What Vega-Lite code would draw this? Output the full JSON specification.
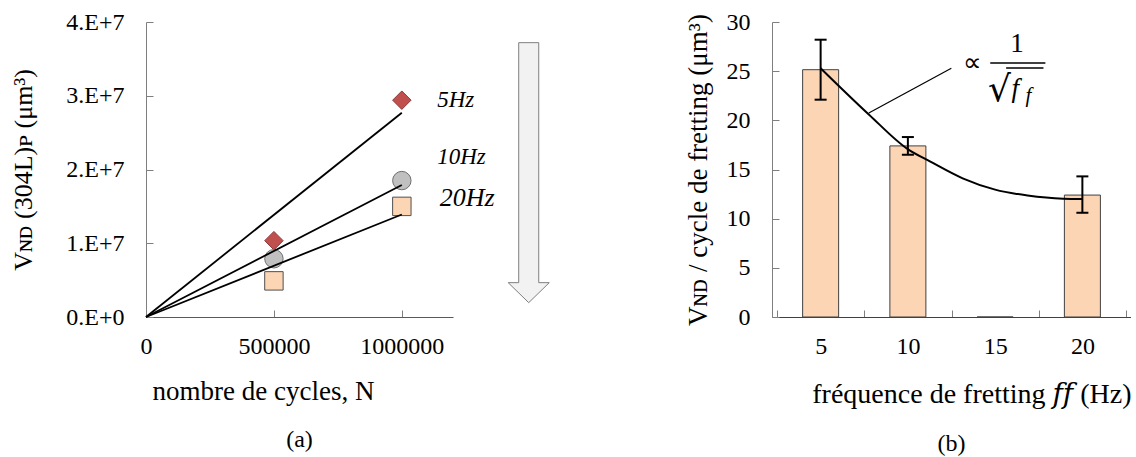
{
  "$schema": "https://vega.github.io/schema/vega-lite/v6.json",
  "background": "white",
  "padding": {"left": 10, "top": 10, "right": 0, "bottom": 0},
  "bounds": "flush",
  "spacing": 319,
  "config": {
    "font": "Liberation Serif",
    "view": {"stroke": null},
    "axis": {
      "grid": false,
      "labelFont": "Liberation Serif",
      "titleFont": "Liberation Serif, DejaVu Serif",
      "labelFontSize": 24,
      "titleFontSize": 27,
      "titleFontWeight": "normal",
      "labelColor": "black",
      "titleColor": "black",
      "tickSize": -7,
      "tickColor": "#7f7f7f",
      "domainColor": "#7f7f7f",
      "labelOverlap": false,
      "labelFlush": false
    },
    "title": {"font": "Liberation Serif", "fontSize": 24, "fontWeight": "normal", "color": "black"}
  },
  "hconcat": [
    {
      "width": 307,
      "height": 295,
      "title": {"text": "(a)", "orient": "bottom", "frame": "group", "anchor": "middle", "offset": 24},
      "layer": [
        {
          "data": {"values": [
            {"g": "5Hz", "N": 500000, "V": 10350000},
            {"g": "5Hz", "N": 1000000, "V": 29400000},
            {"g": "10Hz", "N": 500000, "V": 7900000},
            {"g": "10Hz", "N": 1000000, "V": 18500000},
            {"g": "20Hz", "N": 500000, "V": 4900000},
            {"g": "20Hz", "N": 1000000, "V": 15000000}
          ]},
          "mark": {"type": "point", "filled": true, "size": 340, "opacity": 1, "strokeWidth": 1},
          "encoding": {
            "x": {"field": "N", "type": "quantitative", "scale": {"domain": [0, 1200000], "nice": false},
              "axis": {"values": [0, 500000, 1000000], "format": "d", "title": "nombre de cycles, N",
                "titleX": 117, "titleY": 74, "titleBaseline": "middle", "titleAlign": "center",
                "domainColor": "#595959", "labelPadding": 24}},
            "y": {"field": "V", "type": "quantitative", "scale": {"domain": [0, 40000000], "nice": false},
              "axis": {"values": [0, 10000000, 20000000, 30000000, 40000000],
                "labelExpr": "datum.value == 0 ? '0.E+0' : format(datum.value/10000000, 'd') + '.E+7'",
                "title": "Vɴᴅ  (304L)ᴘ (μm³)", "titleFontSize": 26, "titleX": -123, "titleY": 147.5, "titleBaseline": "middle", "titleAlign": "center",
                "labelPadding": 29}},
            "shape": {"field": "g", "type": "nominal", "scale": {"domain": ["5Hz", "10Hz", "20Hz"], "range": ["diamond", "circle", "square"]}, "legend": null},
            "fill": {"field": "g", "type": "nominal", "scale": {"domain": ["5Hz", "10Hz", "20Hz"], "range": ["#C0504D", "#C0C0C0", "#FCD5B5"]}, "legend": null},
            "stroke": {"field": "g", "type": "nominal", "scale": {"domain": ["5Hz", "10Hz", "20Hz"], "range": ["#8C3836", "#6f6f6f", "#505050"]}, "legend": null}
          }
        },
        {
          "data": {"values": [
            {"g": "5Hz", "N": 0, "V": 0},
            {"g": "5Hz", "N": 1000000, "V": 27700000},
            {"g": "10Hz", "N": 0, "V": 0},
            {"g": "10Hz", "N": 1000000, "V": 17900000},
            {"g": "20Hz", "N": 0, "V": 0},
            {"g": "20Hz", "N": 1000000, "V": 13900000}
          ]},
          "mark": {"type": "line", "color": "black", "strokeWidth": 1.8},
          "encoding": {
            "x": {"field": "N", "type": "quantitative"},
            "y": {"field": "V", "type": "quantitative"},
            "detail": {"field": "g", "type": "nominal"}
          }
        },
        {
          "data": {"values": [
            {"label": "5Hz", "N": 1138000, "V": 29460000},
            {"label": "10Hz", "N": 1138000, "V": 21640000}
          ]},
          "mark": {"type": "text", "align": "left", "baseline": "middle", "fontStyle": "italic", "font": "Liberation Serif", "fontSize": 23, "color": "black"},
          "encoding": {
            "x": {"field": "N", "type": "quantitative"},
            "y": {"field": "V", "type": "quantitative"},
            "text": {"field": "label", "type": "nominal"}
          }
        },
        {
          "data": {"values": [
            {"label": "20Hz", "N": 1148000, "V": 16140000}
          ]},
          "mark": {"type": "text", "align": "left", "baseline": "middle", "fontStyle": "italic", "font": "Liberation Serif", "fontSize": 26, "color": "black"},
          "encoding": {
            "x": {"field": "N", "type": "quantitative"},
            "y": {"field": "V", "type": "quantitative"},
            "text": {"field": "label", "type": "nominal"}
          }
        },
        {
          "data": {"values": [{}]},
          "mark": {"type": "point", "shape": "M -0.077 -1 L 0.077 -1 L 0.077 0.846 L 0.158 0.846 L 0 1 L -0.158 0.846 L -0.077 0.846 Z",
            "size": 67600, "filled": true, "fill": "#F2F2F2", "stroke": "#7f7f7f", "strokeWidth": 1, "opacity": 1},
          "encoding": {
            "x": {"datum": 1496000, "type": "quantitative"},
            "y": {"datum": 19570000, "type": "quantitative"}
          }
        }
      ]
    },
    {
      "width": 359,
      "height": 295,
      "title": {"text": "(b)", "orient": "bottom", "frame": "group", "anchor": "middle", "offset": 24},
      "layer": [
        {
          "data": {"values": [
            {"f": 5, "v": 25.15},
            {"f": 10, "v": 17.4},
            {"f": 15, "v": 0},
            {"f": 20, "v": 12.4}
          ]},
          "mark": {"type": "bar", "width": 36, "fill": "#FCD5B5", "stroke": "#404040", "strokeWidth": 1},
          "encoding": {
            "x": {"field": "f", "type": "quantitative", "scale": {"domain": [2.5, 22.5], "nice": false, "zero": false},
              "axis": {"values": [2.5, 5, 7.5, 10, 12.5, 15, 17.5, 20, 22.5],
                "labelExpr": "datum.value % 5 == 0 ? format(datum.value, 'd') : ''",
                "tickOpacity": {"condition": {"test": "datum.value % 5 == 0", "value": 0}, "value": 1},
                "title": "fréquence de fretting 𝑓𝑓 (Hz)", "titleFontSize": 28, "titleAnchor": "end", "titleY": 77, "titleBaseline": "middle",
                "domainColor": "#404040", "labelPadding": 24}},
            "y": {"field": "v", "type": "quantitative", "scale": {"domain": [0, 30], "nice": false},
              "axis": {"values": [0, 5, 10, 15, 20, 25, 30], "title": "Vɴᴅ / cycle de fretting (μm³)", "titleFontSize": 27,
                "titleX": -74, "titleY": 147.5, "titleBaseline": "middle", "titleAlign": "center", "labelPadding": 29}}
          }
        },
        {
          "data": {"values": [
            {"f": 5, "lo": 22.1, "hi": 28.2},
            {"f": 10, "lo": 16.5, "hi": 18.3},
            {"f": 20, "lo": 10.6, "hi": 14.3}
          ]},
          "layer": [
            {
              "mark": {"type": "rule", "color": "black", "strokeWidth": 2},
              "encoding": {
                "x": {"field": "f", "type": "quantitative"},
                "y": {"field": "lo", "type": "quantitative"},
                "y2": {"field": "hi"}
              }
            },
            {
              "mark": {"type": "tick", "orient": "horizontal", "size": 12, "thickness": 2, "color": "black", "opacity": 1},
              "encoding": {
                "x": {"field": "f", "type": "quantitative"},
                "y": {"field": "lo", "type": "quantitative"}
              }
            },
            {
              "mark": {"type": "tick", "orient": "horizontal", "size": 12, "thickness": 2, "color": "black", "opacity": 1},
              "encoding": {
                "x": {"field": "f", "type": "quantitative"},
                "y": {"field": "hi", "type": "quantitative"}
              }
            }
          ]
        },
        {
          "data": {"values": [
            {"f": 5.0, "v": 25.3},
            {"f": 7.76, "v": 20.6},
            {"f": 9.97, "v": 17.1},
            {"f": 11.29, "v": 15.8},
            {"f": 13.14, "v": 14.1},
            {"f": 15.0, "v": 12.95},
            {"f": 16.86, "v": 12.35},
            {"f": 18.9, "v": 12.03},
            {"f": 20.0, "v": 12.0}
          ]},
          "mark": {"type": "line", "color": "black", "strokeWidth": 2, "interpolate": "monotone"},
          "encoding": {
            "x": {"field": "f", "type": "quantitative"},
            "y": {"field": "v", "type": "quantitative"}
          }
        },
        {
          "data": {"values": [{"x1": 7.76, "y1": 20.75, "x2": 12.49, "y2": 25.3}]},
          "mark": {"type": "rule", "color": "black", "strokeWidth": 1.2},
          "encoding": {
            "x": {"field": "x1", "type": "quantitative"},
            "y": {"field": "y1", "type": "quantitative"},
            "x2": {"field": "x2"},
            "y2": {"field": "y2"}
          }
        },
        {
          "data": {"values": [
            {"x1": 14.72, "x2": 17.88, "y": 25.83},
            {"x1": 15.63, "x2": 17.77, "y": 25.32}
          ]},
          "mark": {"type": "rule", "color": "black", "strokeWidth": 1.4},
          "encoding": {
            "x": {"field": "x1", "type": "quantitative"},
            "x2": {"field": "x2"},
            "y": {"field": "y", "type": "quantitative"}
          }
        },
        {
          "data": {"values": [{"t": "∝", "x": 13.7, "y": 25.83}]},
          "mark": {"type": "text", "align": "center", "baseline": "middle", "font": "Liberation Serif", "fontSize": 26, "color": "black"},
          "encoding": {
            "x": {"field": "x", "type": "quantitative"},
            "y": {"field": "y", "type": "quantitative"},
            "text": {"field": "t", "type": "nominal"}
          }
        },
        {
          "data": {"values": [{"t": "1", "x": 16.26, "y": 27.77}]},
          "mark": {"type": "text", "align": "center", "baseline": "middle", "font": "Liberation Serif", "fontSize": 27, "color": "black"},
          "encoding": {
            "x": {"field": "x", "type": "quantitative"},
            "y": {"field": "y", "type": "quantitative"},
            "text": {"field": "t", "type": "nominal"}
          }
        },
        {
          "data": {"values": [{"t": "√", "x": 15.25, "y": 23.1}]},
          "mark": {"type": "text", "align": "center", "baseline": "middle", "font": "DejaVu Serif", "fontSize": 36, "color": "black"},
          "encoding": {
            "x": {"field": "x", "type": "quantitative"},
            "y": {"field": "y", "type": "quantitative"},
            "text": {"field": "t", "type": "nominal"}
          }
        },
        {
          "data": {"values": [{"t": "f", "x": 16.16, "y": 23.2}]},
          "mark": {"type": "text", "align": "center", "baseline": "middle", "font": "Liberation Serif", "fontStyle": "italic", "fontSize": 27, "color": "black"},
          "encoding": {
            "x": {"field": "x", "type": "quantitative"},
            "y": {"field": "y", "type": "quantitative"},
            "text": {"field": "t", "type": "nominal"}
          }
        },
        {
          "data": {"values": [{"t": "f", "x": 16.91, "y": 22.5}]},
          "mark": {"type": "text", "align": "center", "baseline": "middle", "font": "Liberation Serif", "fontStyle": "italic", "fontSize": 21, "color": "black"},
          "encoding": {
            "x": {"field": "x", "type": "quantitative"},
            "y": {"field": "y", "type": "quantitative"},
            "text": {"field": "t", "type": "nominal"}
          }
        }
      ]
    }
  ]
}
